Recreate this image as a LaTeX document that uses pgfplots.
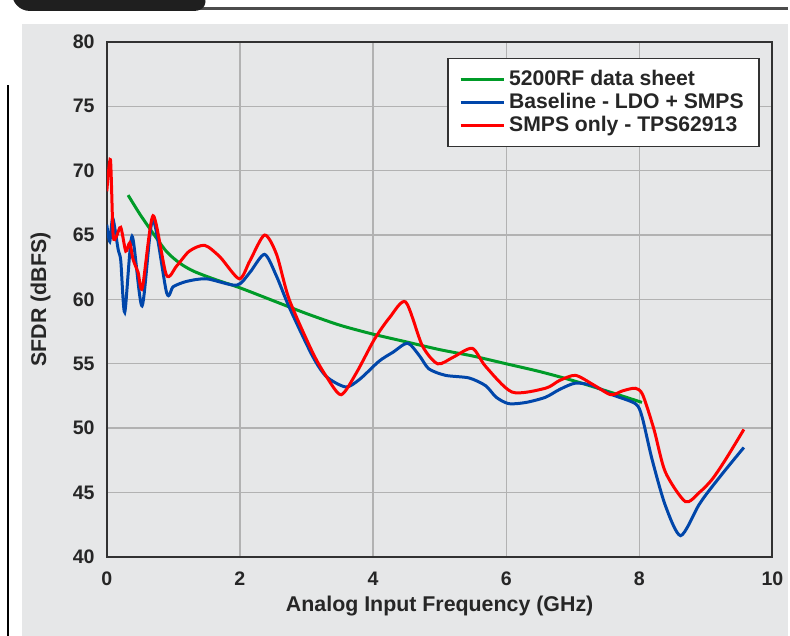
\documentclass[border=0pt]{standalone}
\usepackage{fontspec}
\setmainfont{Liberation Sans}
\usepackage{pgfplots}
\pgfplotsset{compat=1.18}

\definecolor{sheetgreen}{RGB}{0,155,40}
\definecolor{baseblue}{RGB}{0,70,170}
\definecolor{smpsred}{RGB}{255,0,0}
\definecolor{panelgray}{RGB}{230,231,232}
\definecolor{framegray}{RGB}{50,50,50}

\begin{document}
\begin{tikzpicture}
% page = 790 x 637 px, 1 px = 0.5pt
\begin{scope}[x=0.5pt,y=0.5pt]
\useasboundingbox (0,0) rectangle (790,637);
\fill[panelgray] (22,0) rectangle (790,613);
% header strip
\draw[black!70, line width=1.5] (200,628) -- (790,628);
\fill[black!88, rounded corners=9] (12,660) -- (12,626) -- (212,626) -- (196,660) -- cycle;
\draw[black, line width=1.2] (8,0) -- (8,552);
\end{scope}

\begin{axis}[
    at={(53.5pt,39.5pt)}, anchor=south west,
    scale only axis,
    width=333.5pt, height=258pt,
    xmin=0, xmax=10, ymin=40, ymax=80,
    xtick={0,2,...,10},
    ytick={40,45,...,80},
    major tick length=0pt,
    grid=major,
    grid style={black!30, line width=0.7pt},
    axis line style={framegray, line width=1pt},
    /pgf/number format/assume math mode=true,
    tick label style={font=\bfseries\fontsize{9.8}{10}\selectfont, text=black!85},
    xticklabel style={yshift=-4pt},
    yticklabel style={xshift=-2.6pt},
    xlabel={Analog Input Frequency (GHz)},
    ylabel={SFDR (dBFS)},
    label style={font=\bfseries\fontsize{10.7}{11}\selectfont, text=black!85},
    xlabel style={at={(axis description cs:0.5,-0.095)}, anchor=center},
    ylabel style={at={(axis description cs:-0.0995,0.5)}, anchor=center, rotate=0},
    legend style={at={(0.9805,0.969)}, anchor=north east,
        draw=framegray, line width=0.8pt,
        font=\bfseries\fontsize{10.6}{11}\selectfont, text=black!85,
        row sep=-1.8pt, inner xsep=5.5pt, inner ysep=4pt,
        legend cell align=left},
    legend image code/.code={\draw[#1, line width=1.6pt] (0pt,0pt) -- (21.5pt,0pt);},
    every axis plot/.append style={line width=1.5pt, smooth, tension=0.45, no marks},
]

% 5200RF data sheet
\addplot[sheetgreen] coordinates {
 (0.32,68.1) (0.5,66.6) (0.7,65.1) (0.9,63.7) (1.1,62.8) (1.3,62.2) (1.6,61.6)
 (2.0,60.9) (2.5,59.9) (3.0,58.9) (3.5,58.0) (4.0,57.3) (4.5,56.7) (5.0,56.1)
 (5.5,55.6) (6.0,55.0) (6.5,54.4) (7.0,53.7) (7.5,52.9) (8.04,52.0)
};
\addlegendentry{5200RF data sheet}

% Baseline - LDO + SMPS
\addplot[baseblue] coordinates {
 (0,65.8) (0.045,64.5) (0.09,66.3) (0.17,63.9) (0.21,63.0) (0.27,59.0)
 (0.38,64.9) (0.53,59.5) (0.69,66.2) (0.9,60.5) (1.0,61.0) (1.2,61.4)
 (1.5,61.6) (1.95,61.1) (2.15,62.1) (2.37,63.5) (2.55,61.8) (2.74,59.4)
 (3.09,55.6) (3.3,54.0) (3.59,53.2) (3.8,53.8) (4.09,55.2) (4.3,55.9)
 (4.52,56.6) (4.7,55.6) (4.84,54.6) (5.09,54.1) (5.44,53.9) (5.69,53.3)
 (5.85,52.4) (6.04,51.9) (6.3,52.0) (6.59,52.4) (6.8,53.0) (7.04,53.5)
 (7.3,53.3) (7.59,52.6) (7.94,51.9) (8.04,50.9) (8.19,47.6) (8.39,44.0)
 (8.62,41.65) (8.89,44.0) (9.04,45.1) (9.3,46.8) (9.57,48.5)
};
\addlegendentry{Baseline - LDO + SMPS}

% SMPS only - TPS62913
\addplot[smpsred] coordinates {
 (0,68.4) (0.055,70.85) (0.095,65.0) (0.145,64.9) (0.21,65.6) (0.285,63.75)
 (0.345,64.4) (0.395,63.1) (0.47,62.1) (0.535,60.9) (0.695,66.5) (0.895,61.9)
 (1.05,62.6) (1.24,63.75) (1.47,64.2) (1.7,63.3) (1.99,61.6) (2.15,63.0)
 (2.37,65.0) (2.55,63.5) (2.74,60.0) (3.09,55.9) (3.3,54.0) (3.52,52.6)
 (3.75,54.3) (4.02,56.9) (4.25,58.6) (4.49,59.8) (4.74,56.4) (4.97,55.0)
 (5.2,55.5) (5.49,56.2) (5.69,54.8) (6.09,52.8) (6.59,53.1) (6.8,53.7)
 (7.04,54.1) (7.3,53.4) (7.57,52.6) (7.75,52.9) (7.94,53.1) (8.05,52.6)
 (8.22,49.9) (8.39,46.6) (8.69,44.3) (8.9,45.0) (9.09,46.0) (9.3,47.6) (9.57,49.9)
};
\addlegendentry{SMPS only - TPS62913}
\end{axis}
\end{tikzpicture}
\end{document}
